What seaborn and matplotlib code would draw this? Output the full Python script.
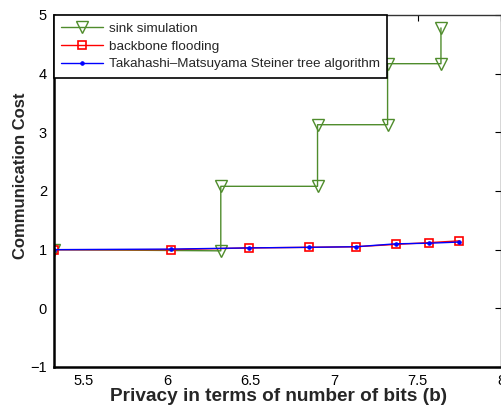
import matplotlib
matplotlib.use("Agg")
import matplotlib.pyplot as plt
import seaborn as sns
import pandas as pd

# Data
sink_x = [5.32, 6.32, 6.32, 6.90, 6.90, 7.32, 7.32, 7.64, 7.64]
sink_y = [1.00, 0.98, 2.08, 2.08, 3.13, 3.13, 4.17, 4.17, 4.78]
bits_x = [5.32, 6.02, 6.49, 6.85, 7.13, 7.37, 7.57, 7.75]
flood_y = [1.00, 1.00, 1.03, 1.04, 1.05, 1.09, 1.12, 1.15]
steiner_y = [1.00, 1.01, 1.03, 1.04, 1.05, 1.10, 1.11, 1.13]

labels = ["sink simulation", "backbone flooding",
          "Takahashi\u2013Matsuyama Steiner tree algorithm"]
xticks = [5.5, 6, 6.5, 7, 7.5, 8]
xticklabels = ["5.5", "6", "6.5", "7", "7.5", "8"]
yticks = [-1, 0, 1, 2, 3, 4, 5]

sns.set_theme(style="white")
plt.rcParams['font.family'] = ['Liberation Sans', 'DejaVu Sans']

fig = plt.figure(figsize=(5.02, 4.07), dpi=100)
ax = fig.add_axes([54 / 502, 40 / 407, 447 / 502, 352 / 407])

df_sink = pd.DataFrame({"x": sink_x, "y": sink_y})
df_flood = pd.DataFrame({"x": bits_x, "y": flood_y})
df_st = pd.DataFrame({"x": bits_x, "y": steiner_y})

green = "#4f8c2c"
sns.lineplot(data=df_sink, x="x", y="y", ax=ax, sort=False, estimator=None,
             color=green, lw=1.0, marker="v", markersize=8,
             markerfacecolor="none", markeredgecolor=green, markeredgewidth=1.0,
             label=labels[0])
sns.lineplot(data=df_flood, x="x", y="y", ax=ax, sort=False, estimator=None,
             color="#ff0000", lw=1.0, marker="s", markersize=6,
             markerfacecolor="none", markeredgecolor="#ff0000", markeredgewidth=1.2,
             label=labels[1])
sns.lineplot(data=df_st, x="x", y="y", ax=ax, sort=False, estimator=None,
             color="#0000ff", lw=1.0, marker="o", markersize=2.5,
             markerfacecolor="#0000ff", markeredgecolor="#0000ff",
             label=labels[2])

ax.set_xlim(5.32, 8.0)
ax.set_ylim(-1, 5)
ax.set_xticks(xticks)
ax.set_xticklabels(xticklabels)
ax.set_yticks(yticks)
ax.tick_params(direction="in", length=4, width=0.8, top=True, right=True,
               labelsize=10.5, colors="black", pad=5)
for s in ["left", "bottom"]:
    ax.spines[s].set_linewidth(1.8)
    ax.spines[s].set_color("black")
for s in ["top", "right"]:
    ax.spines[s].set_linewidth(1.0)
    ax.spines[s].set_color("#333333")

ax.set_xlabel("Privacy in terms of number of bits (b)", fontsize=13.7,
              fontweight="bold")
ax.xaxis.set_label_coords(0.503, -0.060)
ax.set_ylabel("Communication Cost", fontsize=12, fontweight="bold")
ax.yaxis.set_label_coords(-0.058, 0.544)

leg = ax.legend(loc="upper left", fontsize=9.7, frameon=True, fancybox=False,
                borderaxespad=0.0, handlelength=3.1, handletextpad=0.4,
                labelspacing=0.4, borderpad=0.55)
leg.get_frame().set_edgecolor("black")
leg.get_frame().set_linewidth(1.2)
leg.get_frame().set_alpha(1)

fig.savefig("out.png", dpi=100)
